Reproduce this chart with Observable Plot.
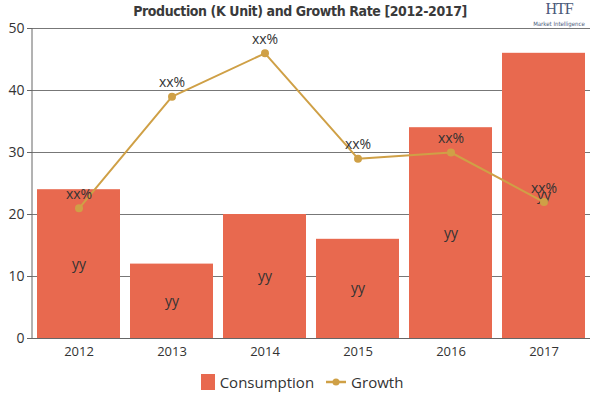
<!DOCTYPE html>
<html>
<head>
<meta charset="utf-8">
<script src="https://cdn.jsdelivr.net/npm/d3@7"></script>
<script src="https://cdn.jsdelivr.net/npm/@observablehq/plot@0.6"></script>
<style>
  html, body { margin: 0; padding: 0; background: #fff; }
  #wrap { position: relative; width: 600px; height: 400px; overflow: hidden; font-family: "Open Sans", sans-serif; }
  #title { position: relative; height: 16px; text-align: center; font-family: "DejaVu Sans Condensed", "DejaVu Sans", sans-serif; font-stretch: condensed; font-weight: bold; font-size: 14px; letter-spacing: -0.4px; line-height: 22px; color: #3a3a3a; white-space: nowrap; }
  #logo { position: absolute; left: 528px; top: 0px; width: 62px; text-align: center; color: #4a5a7a; font-family: "Liberation Serif", serif; letter-spacing: 0; }
  #logo .h { font-size: 16px; line-height: 18px; height: 18px; font-weight: normal; letter-spacing: -1px; }
  #logo .m { font-size: 6px; line-height: 7px; margin-top: 2px; font-weight: normal; font-family: "DejaVu Sans Condensed", sans-serif; }
  #legend { display: flex; justify-content: center; align-items: center; gap: 12px; height: 37px; font-size: 15px; color: #333; padding-left: 4px; }
  .item { display: flex; align-items: center; gap: 5px; }
</style>
</head>
<body>
<div id="wrap">
  <div id="title">Production (K Unit) and Growth Rate [2012-2017]
    <div id="logo"><div class="h">HTF</div><div class="m">Market Intelligence</div></div>
  </div>
  <div id="chart"></div>
  <div id="legend"></div>
</div>
<script>
const years = ["2012", "2013", "2014", "2015", "2016", "2017"];
const consumption = [24, 12, 20, 16, 34, 46];
const growth = [21, 39, 46, 29, 30, 22];
const barLabels = ["yy", "yy", "yy", "yy", "yy", "yy"];
const lineLabels = ["xx%", "xx%", "xx%", "xx%", "xx%", "xx%"];
const yTicks = [0, 10, 20, 30, 40, 50];

const barColor = "#E8694F";
const lineColor = "#CFA046";

const rows = years.map((y, i) => ({year: y, c: consumption[i], g: growth[i], bl: barLabels[i], ll: lineLabels[i]}));

const chart = Plot.plot({
  width: 600,
  height: 347,
  marginTop: 12,
  marginBottom: 25,
  marginLeft: 32,
  marginRight: 10,
  style: {fontFamily: "'Open Sans', sans-serif", fontSize: "13px", color: "#333", background: "#fff"},
  x: {type: "band", domain: years, paddingInner: 0.11, paddingOuter: 0.045, label: null},
  y: {domain: [0, 50], label: null},
  marks: [
    Plot.ruleY(yTicks, {stroke: "#777", strokeWidth: 1}),
    Plot.barY(rows, {x: "year", y: "c", fill: barColor}),
    Plot.axisY({ticks: yTicks, tickSize: 5, tickPadding: 3, fontSize: 14, stroke: "#666", color: "#333", label: null}),
    Plot.ruleY([0], {stroke: "#666"}),
    Plot.axisX({tickSize: 0, tickPadding: 8, fontSize: 13, color: "#333", label: null}),
    Plot.text(rows, {x: "year", y: d => d.c / 2, text: "bl", fill: "#333", fontSize: 14}),
    Plot.line(rows, {x: "year", y: "g", stroke: lineColor, strokeWidth: 2}),
    Plot.dot(rows, {x: "year", y: "g", fill: lineColor, r: 4}),
    Plot.text(rows, {x: "year", y: "g", text: "ll", dy: -14, fill: "#333", fontSize: 14})
  ]
});
const svg = d3.select(chart);
document.getElementById("chart").appendChild(chart);

const ys = chart.scale("y");
svg.append("line")
  .attr("x1", 32).attr("x2", 32)
  .attr("y1", ys.apply(50)).attr("y2", ys.apply(0))
  .attr("stroke", "#666");

const legend = document.getElementById("legend");
legend.innerHTML = `
  <div class="item"><svg width="14" height="16"><rect width="14" height="16" fill="${barColor}"/></svg><span>Consumption</span></div>
  <div class="item"><svg width="20" height="10"><line x1="0" x2="20" y1="5" y2="5" stroke="${lineColor}" stroke-width="2.5"/><circle cx="10" cy="5" r="3.5" fill="${lineColor}"/></svg><span>Growth</span></div>`;
</script>
</body>
</html>
